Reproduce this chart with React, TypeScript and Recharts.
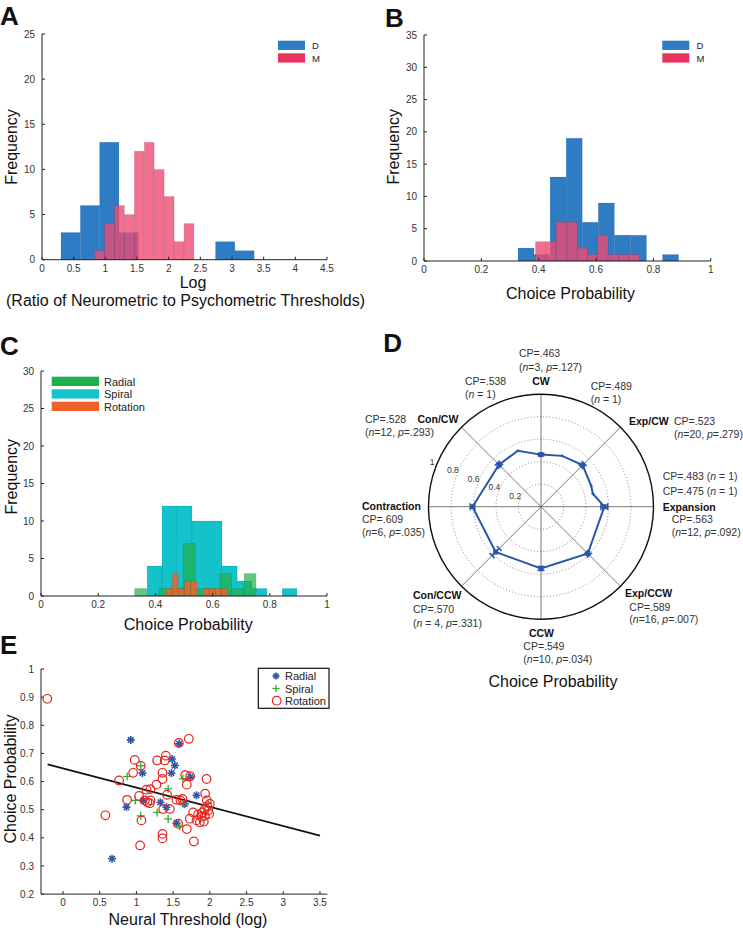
import React from "react";
import {
  ComposedChart,
  XAxis,
  YAxis,
  ReferenceArea,
  Scatter,
  Line,
  RadarChart,
  Radar,
  PolarGrid,
  PolarAngleAxis,
  PolarRadiusAxis,
} from "recharts";

const FONT = '"Liberation Sans", Arial, Helvetica, sans-serif';
const BLUE = "#2E7CC4";
const PINK = "#EE4B73";
const GREEN = "#1FB04A";
const CYAN = "#14C2CB";
const ORANGE = "#F2602A";
const D_BLUE = "#2B55A8";
const INK = "#222";

// A: log ratio of neurometric to psychometric thresholds
const ratioTicksX = [0, 0.5, 1, 1.5, 2, 2.5, 3, 3.5, 4, 4.5];
const ratioTicksY = [0, 5, 10, 15, 20, 25];
const ratioEdgesD = [0.3, 0.605, 0.91, 1.215, 1.52, 1.825, 2.13, 2.435, 2.74, 3.045, 3.35];
const ratioCountsD = [3, 6, 13, 3, 0, 0, 0, 0, 2, 1];
const ratioEdgesM = [0.83, 0.987, 1.144, 1.301, 1.458, 1.615, 1.772, 1.929, 2.086, 2.243, 2.4];
const ratioCountsM = [1, 4, 6, 5, 12, 13, 10, 7, 2, 4];

// B: choice probability per monkey
const cpTicksX = [0, 0.2, 0.4, 0.6, 0.8, 1];
const cpTicksYB = [0, 5, 10, 15, 20, 25, 30, 35];
const cpEdgesD = [0.328, 0.384, 0.44, 0.496, 0.552, 0.608, 0.664, 0.72, 0.776, 0.832, 0.888];
const cpCountsD = [2, 1, 13, 19, 6, 9, 4, 4, 0, 1];
const cpEdgesM = [0.389, 0.425, 0.461, 0.498, 0.534, 0.57, 0.606, 0.642, 0.679, 0.715, 0.751];
const cpCountsM = [3, 3, 6, 6, 2, 1, 4, 1, 1, 1];

// C: choice probability per stimulus type
const cpTicksYC = [0, 5, 10, 15, 20, 25, 30];
const spiralEdges = [0.371, 0.423, 0.476, 0.528, 0.581, 0.633, 0.686, 0.738, 0.79, 0.843, 0.895];
const spiralCounts = [4, 12, 12, 10, 10, 4, 2, 1, 0, 1];
const radialEdges = [0.327, 0.37, 0.412, 0.455, 0.497, 0.54, 0.582, 0.625, 0.667, 0.71, 0.752];
const radialCounts = [1, 0, 1, 1, 7, 1, 1, 3, 1, 3];
const rotationEdges = [0.437, 0.459, 0.48, 0.502, 0.523, 0.545, 0.567, 0.588, 0.61, 0.631, 0.653];
const rotationCounts = [1, 3, 1, 2, 2, 0, 1, 1, 1, 1];

// D: polar plot of mean CP per direction
const dirNames = ["Expansion", "Exp/CW", "CW", "Con/CW", "Contraction", "Con/CCW", "CCW", "Exp/CCW"];
const dirAngles = [0, 45, 90, 135, 180, 225, 270, 315];
const dirCP = [0.563, 0.523, 0.463, 0.528, 0.609, 0.57, 0.549, 0.589];
const dirErr = [0.03, 0.02, 0.01, 0.02, 0.02, 0.045, 0.018, 0.02];
const dirStats = [
  "(n=12, p=.092)",
  "(n=20, p=.279)",
  "(n=3, p=.127)",
  "(n=12, p=.293)",
  "(n=6, p=.035)",
  "(n = 4, p=.331)",
  "(n=10, p=.034)",
  "(n=16, p=.007)",
];
const singleAngles = [14, 22.5, 67.5, 112.5];
const singleCP = [0.475, 0.483, 0.489, 0.538];
const singleStat = "(n = 1)";
const radiusTicks = [0, 0.2, 0.4, 0.6, 0.8, 1];

// E: CP vs neural threshold
const thrTicksX = [0, 0.5, 1, 1.5, 2, 2.5, 3, 3.5];
const cpTicksYE = [0.2, 0.3, 0.4, 0.5, 0.6, 0.7, 0.8, 0.9, 1];
const radialPts = [
  [0.923, 0.748], [0.668, 0.326], [0.864, 0.509], [1.082, 0.63], [1.091, 0.532],
  [1.327, 0.526], [1.409, 0.509], [1.582, 0.734], [1.486, 0.68], [1.523, 0.657],
  [1.477, 0.63], [1.736, 0.616], [1.818, 0.551], [1.659, 0.521], [1.545, 0.452],
];
const spiralPts = [
  [0.873, 0.618], [1.059, 0.656], [0.986, 0.533], [1.059, 0.478], [1.282, 0.49],
  [1.432, 0.574], [1.432, 0.467], [1.591, 0.441], [1.632, 0.61], [1.636, 0.521],
  [1.977, 0.523],
];
const rotationPts = [
  [-0.214, 0.894], [0.577, 0.48], [0.764, 0.604], [0.873, 0.535], [0.955, 0.631],
  [0.977, 0.677], [1.059, 0.656], [1.036, 0.549], [1.068, 0.462], [1.05, 0.373],
  [1.136, 0.571], [1.191, 0.573], [1.114, 0.533], [1.15, 0.526], [1.182, 0.523],
  [1.191, 0.533], [1.273, 0.589], [1.282, 0.675], [1.386, 0.675], [1.4, 0.692],
  [1.355, 0.631], [1.355, 0.609], [1.418, 0.553], [1.364, 0.502], [1.455, 0.502],
  [1.355, 0.414], [1.355, 0.398], [1.577, 0.737], [1.714, 0.752], [1.545, 0.535],
  [1.6, 0.533], [1.627, 0.538], [1.568, 0.45], [1.664, 0.623], [1.732, 0.619],
  [1.686, 0.589], [1.955, 0.609], [1.936, 0.557], [1.959, 0.533], [2.0, 0.521],
  [1.773, 0.49], [1.841, 0.483], [1.886, 0.475], [1.932, 0.478], [1.977, 0.497],
  [1.964, 0.512], [1.991, 0.485], [1.9, 0.49], [1.927, 0.5], [1.727, 0.468],
  [1.818, 0.462], [1.864, 0.455], [1.918, 0.458], [1.686, 0.431], [1.782, 0.387],
];
const fitLine = [
  [-0.21, 0.661],
  [3.5, 0.408],
];

const toXY = (pts: number[][]) => pts.map(([x, y]) => ({ x, y }));

type Layer = { edges: number[]; counts: number[]; fill: string; opacity: number };

const tickStyle = { fontSize: 10, fill: "#333", fontFamily: FONT };

function Hist({
  plot,
  xDomain,
  xTicks,
  yDomain,
  yTicks,
  layers,
}: {
  plot: number[];
  xDomain: number[];
  xTicks: number[];
  yDomain: number[];
  yTicks: number[];
  layers: Layer[];
}) {
  const [l, t, r, b] = plot;
  return (
    <div style={{ position: "absolute", left: l - 40, top: t - 10 }}>
      <ComposedChart
        width={r - l + 50}
        height={b - t + 40}
        margin={{ top: 10, right: 10, bottom: 0, left: 0 }}
      >
        <XAxis
          type="number"
          dataKey="x"
          domain={xDomain}
          ticks={xTicks}
          interval={0}
          allowDataOverflow
          height={30}
          stroke={INK}
          tickSize={-3}
          tickMargin={8}
          tick={tickStyle}
        />
        <YAxis
          type="number"
          domain={yDomain}
          ticks={yTicks}
          interval={0}
          allowDataOverflow
          width={40}
          stroke={INK}
          tickSize={-3}
          tickMargin={10}
          tick={tickStyle}
        />
        {layers.map((ly, li) =>
          ly.counts.map((c, i) =>
            c > 0 ? (
              <ReferenceArea
                key={`${li}-${i}`}
                x1={ly.edges[i]}
                x2={ly.edges[i + 1]}
                y1={0}
                y2={c}
                fill={ly.fill}
                fillOpacity={ly.opacity}
                stroke="#000"
                strokeOpacity={0.15}
                strokeWidth={0.6}
                ifOverflow="visible"
              />
            ) : null
          )
        )}
      </ComposedChart>
    </div>
  );
}

function Asterisk({ cx, cy, s = 4 }: { cx: number; cy: number; s?: number }) {
  const d = s * 0.707;
  return (
    <g stroke={D_BLUE} strokeWidth={1.6}>
      <line x1={cx - s} y1={cy} x2={cx + s} y2={cy} />
      <line x1={cx} y1={cy - s} x2={cx} y2={cy + s} />
      <line x1={cx - d} y1={cy - d} x2={cx + d} y2={cy + d} />
      <line x1={cx - d} y1={cy + d} x2={cx + d} y2={cy - d} />
    </g>
  );
}

function Plus({ cx, cy, s = 4 }: { cx: number; cy: number; s?: number }) {
  return (
    <g stroke="#2DB02D" strokeWidth={1.3}>
      <line x1={cx - s} y1={cy} x2={cx + s} y2={cy} />
      <line x1={cx} y1={cy - s} x2={cx} y2={cy + s} />
    </g>
  );
}

function Ring({ cx, cy }: { cx: number; cy: number }) {
  return <circle cx={cx} cy={cy} r={4.3} fill="none" stroke="#E5241F" strokeWidth={1.2} />;
}

function RadarMark(props: any) {
  const { cx, cy, payload } = props;
  const row = payload?.payload ?? payload;
  if (cx == null || cy == null || !row || Number.isNaN(cx)) return <g />;
  if (row.err == null) return <circle cx={cx} cy={cy} r={1.4} fill={D_BLUE} />;
  const angle = payload?.angle ?? row.angle;
  const a = (angle * Math.PI) / 180;
  const ux = Math.cos(a);
  const uy = -Math.sin(a);
  const rad = payload?.radius ?? props.radius;
  const k = rad ? rad / row.cp : 112.5;
  const d = row.err * k;
  const cap = 3.5;
  const ends = [
    [cx - ux * d, cy - uy * d],
    [cx + ux * d, cy + uy * d],
  ];
  return (
    <g stroke={D_BLUE} strokeWidth={1.5}>
      <line x1={ends[0][0]} y1={ends[0][1]} x2={ends[1][0]} y2={ends[1][1]} />
      {ends.map(([ex, ey], i) => (
        <line key={i} x1={ex + uy * cap} y1={ey - ux * cap} x2={ex - uy * cap} y2={ey + ux * cap} />
      ))}
      <rect x={cx - 2.5} y={cy - 2.5} width={5} height={5} fill={D_BLUE} stroke="none" />
    </g>
  );
}

const radTick = (p: any) =>
  p.payload.value === 0 ? (
    <g />
  ) : (
    <text x={p.x - 5} y={p.y - 2} textAnchor="middle" dominantBaseline="central" fontSize={8.5} fill="#333" fontFamily={FONT}>
      {p.payload.value}
    </text>
  );

const cpText = (v: number) => `CP=${v.toFixed(3).slice(1)}`;

function Stat({ x, y, text, anchor = "start" }: { x: number; y: number; text: string; anchor?: string }) {
  return (
    <text x={x} y={y} fontSize={10.5} fill="#333" dominantBaseline="central" textAnchor={anchor as any}>
      {text.split("").map((ch, i) =>
        ch === "n" || ch === "p" ? (
          <tspan key={i} fontStyle="italic">
            {ch}
          </tspan>
        ) : (
          ch
        )
      )}
    </text>
  );
}

// label placement for panel D: [nameX, nameY, anchor, textX, cpY, statY]
const dirLabelPos: [number, number, string, number, number, number][] = [
  [662.7, 506.7, "start", 671.7, 519, 532.3],
  [629, 421, "start", 674, 421, 434],
  [541, 380.7, "middle", 519, 353, 366.7],
  [458.3, 419.3, "end", 365, 419.3, 431.7],
  [362, 506, "start", 362, 518.7, 532],
  [413, 595, "start", 413, 609, 622.7],
  [541.5, 632.7, "middle", 523.3, 645.7, 659],
  [625, 593.3, "start", 629.3, 606.7, 619.3],
];
// [x, y, second line gap (0 = same line)]
const singleLabelPos = [
  [662.7, 490.7, 0],
  [662.7, 475.7, 0],
  [590.7, 385.7, 13],
  [465, 380.7, 13.6],
];

export default function App() {
  const radarRows = [
    ...dirAngles.map((a, i) => ({ angle: a, cp: dirCP[i], err: dirErr[i] })),
    ...singleAngles.map((a, i) => ({ angle: a, cp: singleCP[i] })),
  ].sort((p, q) => p.angle - q.angle);

  const axisTitle = { fontSize: 16, fill: "#111" };

  return (
    <div
      style={{
        position: "absolute",
        left: 0,
        top: 0,
        width: 743,
        height: 932,
        background: "#fff",
        fontFamily: FONT,
        overflow: "hidden",
      }}
    >
      <Hist
        plot={[41.7, 34.3, 326.7, 260]}
        xDomain={[0, 4.5]}
        xTicks={ratioTicksX}
        yDomain={[0, 25]}
        yTicks={ratioTicksY}
        layers={[
          { edges: ratioEdgesD, counts: ratioCountsD, fill: BLUE, opacity: 1 },
          { edges: ratioEdgesM, counts: ratioCountsM, fill: PINK, opacity: 0.8 },
        ]}
      />
      <Hist
        plot={[424.3, 35, 711, 261]}
        xDomain={[0, 1]}
        xTicks={cpTicksX}
        yDomain={[0, 35]}
        yTicks={cpTicksYB}
        layers={[
          { edges: cpEdgesD, counts: cpCountsD, fill: BLUE, opacity: 1 },
          { edges: cpEdgesM, counts: cpCountsM, fill: PINK, opacity: 0.8 },
        ]}
      />
      <Hist
        plot={[40.7, 370.7, 326.7, 595.7]}
        xDomain={[0, 1]}
        xTicks={cpTicksX}
        yDomain={[0, 30]}
        yTicks={cpTicksYC}
        layers={[
          { edges: spiralEdges, counts: spiralCounts, fill: CYAN, opacity: 1 },
          { edges: radialEdges, counts: radialCounts, fill: GREEN, opacity: 0.7 },
          { edges: rotationEdges, counts: rotationCounts, fill: ORANGE, opacity: 0.85 },
        ]}
      />

      {/* D */}
      <div style={{ position: "absolute", left: 370, top: 330 }}>
        <RadarChart
          width={373}
          height={345}
          data={radarRows}
          cx={171}
          cy={176.7}
          outerRadius={112.5}
          startAngle={0}
          endAngle={360}
          margin={{ top: 0, right: 0, bottom: 0, left: 0 }}
        >
          <PolarGrid gridType="circle" radialLines={false} stroke="#888" strokeDasharray="1 2.2" />
          <PolarGrid gridType="circle" polarAngles={dirAngles} polarRadius={[]} stroke="#555" strokeWidth={0.8} />
          <PolarAngleAxis
            dataKey="angle"
            type="number"
            domain={[0, 360]}
            tick={false}
            tickLine={false}
            axisLineType="circle"
            stroke="#111"
            strokeWidth={1.4}
          />
          <PolarRadiusAxis
            type="number"
            angle={157.5}
            domain={[0, 1]}
            ticks={radiusTicks as any}
            tickCount={6}
            axisLine={false}
            tickLine={false}
            tick={radTick}
          />
          <Radar
            dataKey="cp"
            stroke={D_BLUE}
            strokeWidth={2}
            fill="none"
            fillOpacity={0}
            dot={(p: any) => <RadarMark key={p.index} {...p} />}
            isAnimationActive={false}
          />
        </RadarChart>
      </div>

      {/* E */}
      <div style={{ position: "absolute", left: 1, top: 659.2 }}>
        <ComposedChart width={336.3} height={265.1} margin={{ top: 10, right: 10, bottom: 0, left: 0 }}>
          <XAxis
            type="number"
            dataKey="x"
            domain={[-0.3, 3.6]}
            ticks={thrTicksX}
            interval={0}
            allowDataOverflow
            height={30}
            stroke={INK}
            tickSize={-3}
            tickMargin={8}
            tick={tickStyle}
          />
          <YAxis
            type="number"
            dataKey="y"
            domain={[0.2, 1]}
            ticks={cpTicksYE}
            interval={0}
            allowDataOverflow
            width={40}
            stroke={INK}
            tickSize={-3}
            tickMargin={10}
            tick={tickStyle}
          />
          <Line
            data={toXY(fitLine)}
            dataKey="y"
            type="linear"
            stroke="#111"
            strokeWidth={1.8}
            dot={false}
            isAnimationActive={false}
          />
          <Scatter data={toXY(radialPts)} dataKey="y" shape={(p: any) => <Asterisk cx={p.cx} cy={p.cy} />} isAnimationActive={false} />
          <Scatter data={toXY(spiralPts)} dataKey="y" shape={(p: any) => <Plus cx={p.cx} cy={p.cy} />} isAnimationActive={false} />
          <Scatter data={toXY(rotationPts)} dataKey="y" shape={(p: any) => <Ring cx={p.cx} cy={p.cy} />} isAnimationActive={false} />
        </ComposedChart>
      </div>

      {/* text, legends */}
      <svg
        width={743}
        height={932}
        style={{ position: "absolute", left: 0, top: 0, pointerEvents: "none" }}
        fontFamily={FONT}
      >
        <g fontSize={26} fontWeight="bold" fill="#111">
          <text x={0} y={25}>A</text>
          <text x={385} y={26.7}>B</text>
          <text x={0} y={355}>C</text>
          <text x={383.3} y={351.7}>D</text>
          <text x={0} y={654.3}>E</text>
        </g>

        {/* A */}
        <text x={193} y={288} textAnchor="middle" {...axisTitle}>Log</text>
        <text x={185.5} y={306} textAnchor="middle" {...axisTitle}>(Ratio of Neurometric to Psychometric Thresholds)</text>
        <text transform="translate(11 147) rotate(-90)" textAnchor="middle" dominantBaseline="central" {...axisTitle}>Frequency</text>
        <rect x={278} y={40.7} width={27} height={9.3} fill={BLUE} />
        <rect x={278} y={53.3} width={27} height={9.3} fill="#E8325F" />
        <text x={312} y={45.5} fontSize={9.5} dominantBaseline="central" fill="#222">D</text>
        <text x={312} y={58} fontSize={9.5} dominantBaseline="central" fill="#222">M</text>

        {/* B */}
        <text x={570.5} y={298.5} textAnchor="middle" {...axisTitle}>Choice Probability</text>
        <text transform="translate(393 146.7) rotate(-90)" textAnchor="middle" dominantBaseline="central" {...axisTitle}>Frequency</text>
        <rect x={662.3} y={40.7} width={27} height={9.3} fill={BLUE} />
        <rect x={662.3} y={53.3} width={27} height={9.3} fill="#E8325F" />
        <text x={696.5} y={45.5} fontSize={9.5} dominantBaseline="central" fill="#222">D</text>
        <text x={696.5} y={58} fontSize={9.5} dominantBaseline="central" fill="#222">M</text>

        {/* C */}
        <text x={188.3} y={629.5} textAnchor="middle" {...axisTitle}>Choice Probability</text>
        <text transform="translate(11 476.7) rotate(-90)" textAnchor="middle" dominantBaseline="central" {...axisTitle}>Frequency</text>
        <rect x={51.7} y={376.7} width={47.3} height={9.3} fill={GREEN} />
        <rect x={51.7} y={389.3} width={47.3} height={9.3} fill={CYAN} />
        <rect x={51.7} y={401.7} width={47.3} height={9.3} fill={ORANGE} />
        <g fontSize={11} fill="#222" dominantBaseline="central">
          <text x={104} y={381.5}>Radial</text>
          <text x={104} y={394}>Spiral</text>
          <text x={104} y={406.5}>Rotation</text>
        </g>

        {/* D labels */}
        {dirNames.map((name, i) => {
          const [nx, ny, anchor, tx, cy, sy] = dirLabelPos[i];
          return (
            <g key={name}>
              <text x={nx} y={ny} textAnchor={anchor as any} dominantBaseline="central" fontSize={10.5} fontWeight="bold" fill="#111">
                {name}
              </text>
              <text x={tx} y={cy} dominantBaseline="central" fontSize={10.5} fill="#333">
                {cpText(dirCP[i])}
              </text>
              <Stat x={tx} y={sy} text={dirStats[i]} />
            </g>
          );
        })}
        {singleCP.map((v, i) => {
          const [x, y, gap] = singleLabelPos[i];
          return gap === 0 ? (
            <Stat key={i} x={x} y={y} text={`${cpText(v)} ${singleStat}`} />
          ) : (
            <g key={i}>
              <text x={x} y={y} dominantBaseline="central" fontSize={10.5} fill="#333">
                {cpText(v)}
              </text>
              <Stat x={x} y={y + gap} text={singleStat} />
            </g>
          );
        })}
        <text x={553} y={686.5} textAnchor="middle" {...axisTitle}>Choice Probability</text>

        {/* E */}
        <text x={188} y={925} textAnchor="middle" {...axisTitle}>Neural Threshold (log)</text>
        <text transform="translate(10 779) rotate(-90)" textAnchor="middle" dominantBaseline="central" {...axisTitle}>Choice Probability</text>
        <rect x={258.3} y={668.3} width={70.7} height={40} fill="#fff" stroke="#111" strokeWidth={1.2} />
        <Asterisk cx={276} cy={676} s={3.6} />
        <Plus cx={276} cy={688.5} s={3.6} />
        <Ring cx={276.7} cy={700.7} />
        <g fontSize={11} fill="#222" dominantBaseline="central">
          <text x={285} y={676}>Radial</text>
          <text x={285} y={688.5}>Spiral</text>
          <text x={285} y={700.7}>Rotation</text>
        </g>
      </svg>
    </div>
  );
}
